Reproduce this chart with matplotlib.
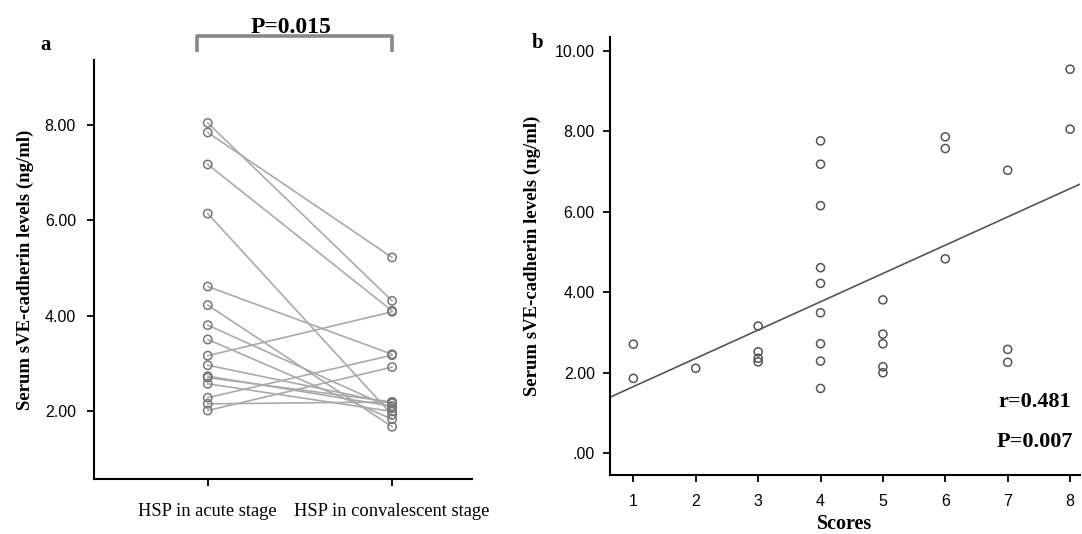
import matplotlib.pyplot as plt
import numpy as np

# panel a: paired values (acute -> convalescent)
groups = ['HSP in acute stage', 'HSP in convalescent stage']
acute = [8.04, 7.84, 7.17, 6.14, 4.61, 4.22, 3.80, 3.50, 3.16, 2.96, 2.73, 2.70, 2.57, 2.28, 2.15, 2.01]
conval = [4.31, 5.22, 4.10, 1.92, 3.19, 1.67, 2.06, 1.83, 4.08, 2.16, 2.10, 2.19, 1.99, 3.17, 2.19, 2.92]
yticks_a = [2, 4, 6, 8]

# panel b: scores vs levels
scores = [1, 1, 2, 3, 3, 3, 3, 4, 4, 4, 4, 4, 4, 4, 4, 4,
          5, 5, 5, 5, 5, 6, 6, 6, 7, 7, 7, 8, 8]
levels = [2.71, 1.86, 2.11, 3.16, 2.52, 2.36, 2.27,
          7.76, 7.18, 6.15, 4.61, 4.22, 3.49, 2.72, 2.29, 1.61,
          3.81, 2.96, 2.72, 2.15, 2.00,
          7.86, 7.57, 4.83,
          7.03, 2.58, 2.26,
          9.54, 8.05]
yticks_b = [0, 2, 4, 6, 8, 10]

serif = 'Liberation Serif'
sans = 'Liberation Sans'

fig = plt.figure(figsize=(10.82, 5.34), dpi=100)

# ---- panel a
ax1 = fig.add_axes([0.0869, 0.1030, 0.3494, 0.7846])
for a, c in zip(acute, conval):
    ax1.plot([0, 1], [a, c], color='#aaaaaa', lw=1.2, zorder=1)
ax1.scatter(np.zeros(len(acute)), acute, s=36, facecolors='none',
            edgecolors='#777777', linewidths=1.1, zorder=2)
ax1.scatter(np.ones(len(conval)), conval, s=36, facecolors='none',
            edgecolors='#777777', linewidths=1.1, zorder=2)
ax1.set_xlim(-0.617, 1.434)
ax1.set_ylim(0.574, 9.36)
ax1.set_xticks([0, 1])
ax1.set_xticklabels(groups, fontfamily=serif, fontsize=13.3)
ax1.set_yticks(yticks_a)
ax1.set_yticklabels(['%.2f' % v for v in yticks_a], fontfamily=sans, fontsize=11.5)
ax1.set_ylabel('Serum sVE-cadherin levels (ng/ml)', fontfamily=serif,
               fontweight='bold', fontsize=13.5, labelpad=8)
for s in ['top', 'right']:
    ax1.spines[s].set_visible(False)
for s in ['left', 'bottom']:
    ax1.spines[s].set_linewidth(1.5)
ax1.tick_params(axis='y', length=5, width=1.3, pad=8)
ax1.tick_params(axis='x', length=5, width=1.3, pad=12)

# significance bracket
ax1.plot([-0.058, -0.058, 1.0, 1.0], [9.53, 9.86, 9.86, 9.53], color='#888888',
         lw=2.6, clip_on=False, solid_capstyle='butt')
ax1.text(0.45, 9.93, 'P=0.015', ha='center', va='baseline', fontfamily=serif,
         fontweight='bold', fontsize=17)

fig.text(0.042, 0.915, 'a', fontfamily=serif, fontweight='bold', fontsize=15,
         ha='center', va='center')

# ---- panel b
ax2 = fig.add_axes([0.5638, 0.1105, 0.4344, 0.8202])
ax2.scatter(scores, levels, s=34, facecolors='none', edgecolors='#555555',
            linewidths=1.1, zorder=2)
k, b = np.polyfit(scores, levels, 1)
xl = np.array([0.626, 8.16])
ax2.plot(xl, k * xl + b, color='#555555', lw=1.2, zorder=1)
ax2.set_xlim(0.626, 8.16)
ax2.set_ylim(-0.54, 10.34)
ax2.set_xticks(range(1, 9))
ax2.set_xticklabels([str(i) for i in range(1, 9)], fontfamily=sans, fontsize=11.5)
ax2.set_yticks(yticks_b)
ax2.set_yticklabels(['.00'] + ['%.2f' % v for v in yticks_b[1:]],
                    fontfamily=sans, fontsize=11.5)
ax2.set_xlabel('Scores', fontfamily=serif, fontweight='bold', fontsize=14.5, labelpad=3)
ax2.set_ylabel('Serum sVE-cadherin levels (ng/ml)', fontfamily=serif,
               fontweight='bold', fontsize=13.5, labelpad=10)
for s in ['top', 'right']:
    ax2.spines[s].set_visible(False)
for s in ['left', 'bottom']:
    ax2.spines[s].set_linewidth(1.5)
ax2.tick_params(axis='y', length=5, width=1.3, pad=6)
ax2.tick_params(axis='x', length=5, width=1.3, pad=9)

ax2.text(0.98, 0.167, 'r=0.481', transform=ax2.transAxes, ha='right', va='center',
         fontfamily=serif, fontweight='bold', fontsize=16)
ax2.text(0.985, 0.075, 'P=0.007', transform=ax2.transAxes, ha='right', va='center',
         fontfamily=serif, fontweight='bold', fontsize=16)

fig.text(0.497, 0.919, 'b', fontfamily=serif, fontweight='bold', fontsize=15,
         ha='center', va='center')

fig.savefig('out.png', dpi=100)
